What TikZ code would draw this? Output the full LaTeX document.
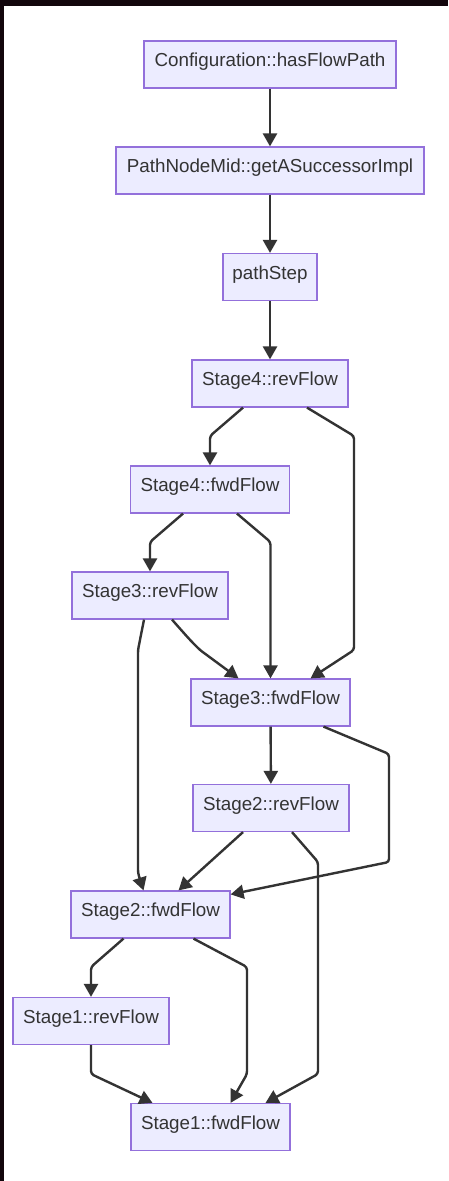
\documentclass[tikz,border=0pt]{standalone}
\usepackage{fontspec}
\setmainfont{Liberation Sans}
\usetikzlibrary{arrows.meta,calc}
\definecolor{nodefill}{HTML}{ECECFF}
\definecolor{nodeline}{HTML}{9370DB}
\definecolor{edgecol}{HTML}{333333}
\definecolor{darkbg}{RGB}{18,6,12}
\begin{document}
\begin{tikzpicture}[x=1pt,y=-1pt,
  box/.style={draw=nodeline,fill=nodefill,line width=1.2pt,minimum height=47pt,inner sep=0pt,
    text height=13.7pt,text depth=9.2pt,
    text=edgecol,font=\fontsize{18.8}{22}\selectfont},
  edge/.style={draw=edgecol,line width=2.4pt,rounded corners=3pt,
    -{Triangle[length=13pt,width=14pt]}}]
\useasboundingbox (0,0) rectangle (448,1181);
\fill[darkbg] (0,0) rectangle (448,1181);
\fill[white] (4,6) rectangle (448,1181);
\node[box,minimum width=252pt] (n1) at (270,64.5) {Configuration::hasFlowPath};
\node[box,minimum width=308pt] (n2) at (270,170.5) {PathNodeMid::getASuccessorImpl};
\node[box,minimum width=94pt] (n3) at (270,277) {pathStep};
\node[box,minimum width=156pt] (n4) at (270,383.5) {Stage4::revFlow};
\node[box,minimum width=159pt] (n5) at (210,489.5) {Stage4::fwdFlow};
\node[box,minimum width=156pt] (n6) at (150,595.5) {Stage3::revFlow};
\node[box,minimum width=159pt] (n7) at (270.5,702.5) {Stage3::fwdFlow};
\node[box,minimum width=156pt] (n8) at (271,808) {Stage2::revFlow};
\node[box,minimum width=159pt] (n9) at (150.5,914.5) {Stage2::fwdFlow};
\node[box,minimum width=156pt] (n10) at (91,1021) {Stage1::revFlow};
\node[box,minimum width=159pt] (n11) at (210.5,1127) {Stage1::fwdFlow};
\path[edge] (n1) -- (n2);
\path[edge] (n2) -- (n3);
\path[edge] (n3) -- (n4);
\path[edge] ([xshift=-27pt]n4.south) -- (210,436) -- (n5.north);
\path[edge] ([xshift=37pt]n4.south) -- (354,436) -- (354,650) -- ([xshift=40pt]n7.north);
\path[edge] ([xshift=-27pt]n5.south) -- (150,542) -- (n6.north);
\path[edge] ([xshift=27pt]n5.south) -- (270.5,542) -- (n7.north);
\path[edge] ([xshift=22pt]n6.south) .. controls (190,640) .. (200,650) -- ([xshift=-32pt]n7.north);
\path[edge] ([xshift=-6pt]n6.south) -- (138,650) -- (138,873) -- ([xshift=-7pt]n9.north);
\path[edge] (n7) -- (n8);
\path[edge] ([xshift=53pt]n7.south) -- (389,754) -- (389,862) -- ([yshift=-4pt]n9.north east);
\path[edge] ([xshift=-28pt]n8.south) -- ([xshift=28pt]n9.north);
\path[edge] ([xshift=21pt]n8.south) -- (318,862) -- (318,1074) -- ([xshift=55pt]n11.north);
\path[edge] ([xshift=-27pt]n9.south) -- (91,967) -- (n10.north);
\path[edge] ([xshift=43pt]n9.south) -- (247,967) -- (247,1074) -- ([xshift=20pt]n11.north);
\path[edge] (n10.south) -- (91,1074) -- ([xshift=-58pt]n11.north);
\end{tikzpicture}
\end{document}
